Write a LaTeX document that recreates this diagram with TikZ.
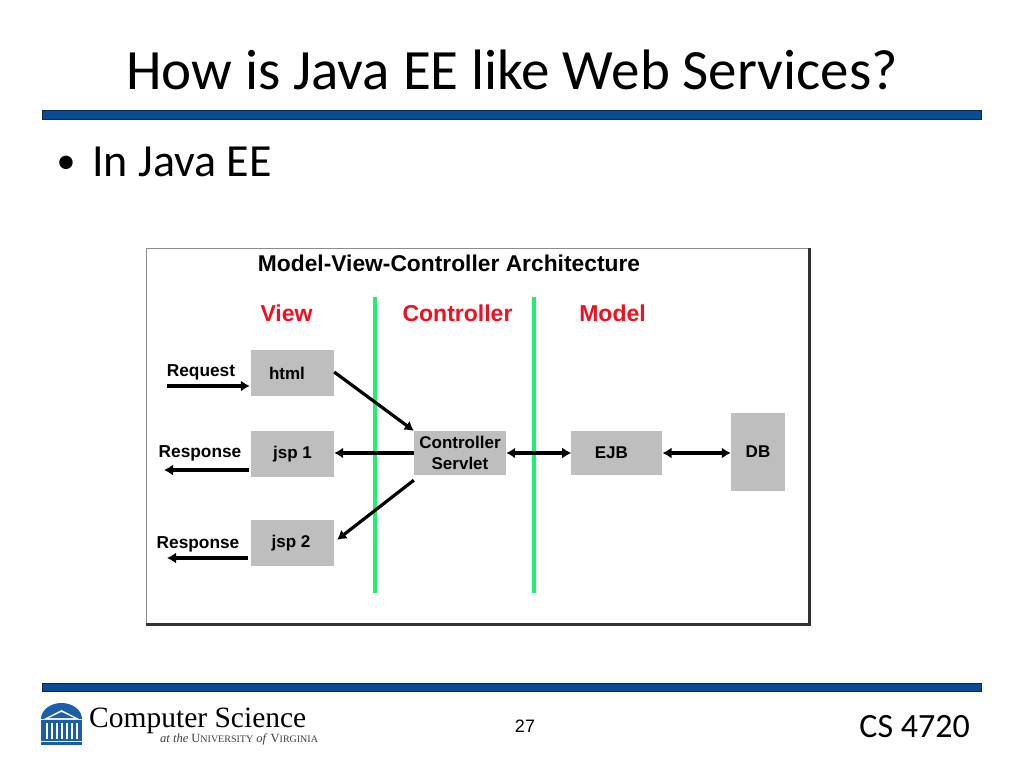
\documentclass[tikz,border=0pt]{standalone}
\usepackage{fontspec}
\setmainfont{Carlito}
\newfontfamily\figfont{Liberation Sans}
\newfontfamily\logofont{Liberation Serif}
\usepackage{xcolor}
\usetikzlibrary{arrows.meta,positioning}
\definecolor{ink}{HTML}{000000}
\definecolor{barblue}{HTML}{0B4A94}
\definecolor{bardark}{HTML}{0A2A50}
\definecolor{boxgray}{HTML}{BEBEBE}
\definecolor{linegreen}{HTML}{22EE70}
\definecolor{headred}{HTML}{F01020}
\definecolor{logoblue}{HTML}{1A5FA8}
\newcommand{\smallcap}{\fontsize{10}{12}\selectfont}
\tikzset{
  >={Latex[length=9pt,width=11pt]},
  every node/.style={text=ink,inner sep=0pt},
  slidebar/.style={draw=bardark,line width=1pt,fill=barblue},
  comp/.style={fill=boxgray,align=center,font=\figfont\bfseries\fontsize{17}{21}\selectfont},
  viewbox/.style={comp,minimum width=83pt,minimum height=46pt},
  ctrlbox/.style={comp,minimum width=92pt,minimum height=44pt},
  heading/.style={text=headred,font=\figfont\bfseries\fontsize{23}{27}\selectfont},
  flowlabel/.style={font=\figfont\bfseries\fontsize{17.3}{20}\selectfont},
  arrow/.style={->,line width=3.2pt,draw=black},
  dblarrow/.style={<->,line width=3.2pt,draw=black},
  tier/.style={line width=3.4pt,draw=linegreen}
}
\begin{document}
\begin{tikzpicture}[x=1pt,y=-1pt]
  \useasboundingbox (0,0) rectangle (1024,768);
  \fill[white] (0,0) rectangle (1024,768);

  % slide frame
  \node[font=\fontsize{57}{64}\selectfont] (title) at (512,70) {How is Java EE like Web Services?};
  \draw[slidebar] (42.5,110.5) rectangle (981.5,119.5);
  \node[anchor=center,font=\fontsize{38}{48}\selectfont] (bullet) at (66,165) {•};
  \node[anchor=west,font=\fontsize{46}{52}\selectfont] (item) at (92,162) {In Java EE};

  % figure panel
  \fill[white] (146,248) rectangle (810,625);
  \draw[black!45,line width=1.5pt] (146.7,625) -- (146.7,248.7) -- (810,248.7);
  \draw[black!80,line width=2.5pt] (146,624.7) -- (809.7,624.7) -- (809.7,248);

  \node[font=\figfont\bfseries\fontsize{22.8}{27}\selectfont] (figtitle) at (449,263) {Model-View-Controller Architecture};
  \node[heading] (viewhead) at (286.5,313) {View};
  \node[heading] (ctrlhead) at (457.5,313) {Controller};
  \node[heading] (modelhead) at (612.5,313) {Model};

  \coordinate (tiera) at (375,297);
  \coordinate (tierb) at (534,297);
  \coordinate (tierc) at (375,593);
  \coordinate (tierd) at (534,593);
  \draw[tier] (tiera) -- (tierc);
  \draw[tier] (tierb) -- (tierd);

  \node[viewbox] (html) at (292.5,373) {html\hspace*{11pt}};
  \node[viewbox,below=35pt of html] (jspa) {jsp 1};
  \node[viewbox,below=42pt of jspa] (jspb) {jsp 2\hspace*{3pt}};
  \node[ctrlbox] (servlet) at (460,453) {Controller\\Servlet};
  \node[ctrlbox,minimum width=91pt,right=65pt of servlet] (ejb) {EJB\hspace*{11pt}};
  \node[comp,minimum width=54pt,minimum height=78pt] (db) at (758,452) {DB};

  \node[flowlabel] (request) at (201,372) {Request};
  \node[flowlabel] (respa) at (200,453) {Response};
  \node[flowlabel] (respb) at (198,544) {Response};
  \coordinate (reqfree) at (167,386);
  \coordinate (respafree) at (164,470);
  \coordinate (respbfree) at (167,558);

  \draw[arrow] (reqfree) -- ([xshift=-1pt]reqfree -| html.west);
  \draw[arrow] ([xshift=-2pt]respafree -| jspa.west) -- (respafree);
  \draw[arrow] ([xshift=-3pt]respbfree -| jspb.west) -- (respbfree);
  \draw[arrow] (html.east) ++(0,-1) -- (servlet.north west);
  \draw[arrow] (servlet.west) -- (servlet.west -| jspa.east);
  \draw[arrow] (servlet.south west) ++(0,5) -- ([xshift=3pt,yshift=3pt]jspb.east);
  \draw[dblarrow] (servlet) -- (ejb);
  \draw[dblarrow] (ejb.east) -- (ejb.east -| db.west);

  % footer
  \draw[slidebar] (42.5,683.5) rectangle (981.5,691.5);
  \node[font=\figfont\fontsize{18}{22}\selectfont] (pagenum) at (525,726) {27};
  \node[anchor=east,font=\fontsize{34}{38}\selectfont] (course) at (970,727) {CS 4720};

  % logo
  \fill[logoblue] (41,719) arc[start angle=180,end angle=0,x radius=20.5,y radius=-16] -- cycle;
  \fill[white] (44,719) -- (61.5,710) -- (79,719) -- cycle;
  \fill[logoblue] (49,718) -- (61.5,712) -- (74,718) -- cycle;
  \fill[logoblue] (41,720) rectangle (82,745);
  \foreach \px in {46,51,56,61,66,71,76}
    \fill[white] (\px,723) rectangle ++(2,16);
  \fill[white] (41,741) rectangle (82,742);
  \node[anchor=west,font=\logofont\fontsize{29.5}{34}\selectfont] (logoname) at (89,721) {Computer Science};
  \node[anchor=west,text=black!75,font=\logofont\fontsize{12.5}{14}\selectfont] (logosub) at (160,739) {\textit{at the} U{\smallcap NIVERSITY} \textit{of} V{\smallcap IRGINIA}};
\end{tikzpicture}
\end{document}
